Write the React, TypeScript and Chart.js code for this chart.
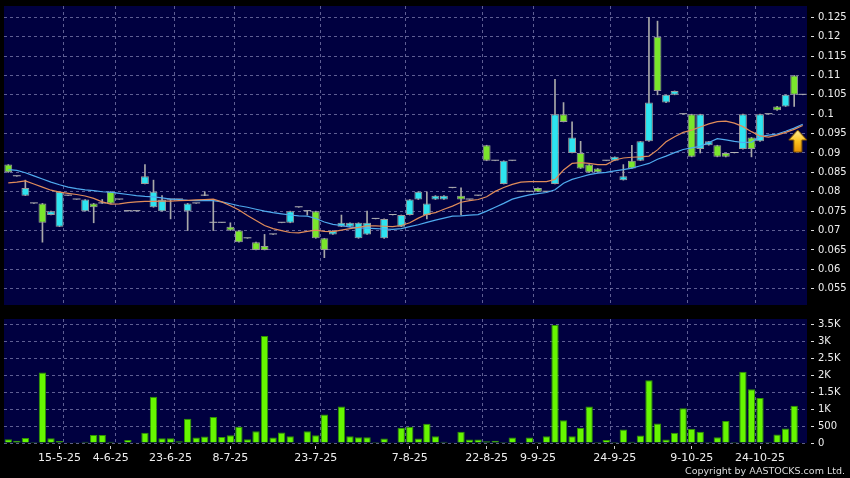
import React, { useEffect, useRef } from 'react';
import { Chart, registerables } from 'chart.js';

Chart.register(...registerables);

// ---------- data ----------
const opens = [
  0.087, 0.084, 0.079, 0.077, 0.077, 0.074, 0.071, 0.079, 0.078, 0.075,
  0.077, 0.077, 0.080, 0.078, 0.075, 0.075, 0.082, 0.076, 0.075, 0.078,
  0.078, 0.075, 0.077, 0.079, 0.072, 0.072, 0.071, 0.070, 0.068, 0.067,
  0.066, 0.069, 0.072, 0.072, 0.076, 0.075, 0.075, 0.068, 0.069, 0.071,
  0.071, 0.068, 0.069, 0.073, 0.068, 0.074, 0.071, 0.074, 0.078, 0.074,
  0.078, 0.078, 0.081, 0.079, 0.078, 0.079, 0.092, 0.088, 0.082, 0.088,
  0.080, 0.080, 0.081, 0.080, 0.082, 0.100, 0.090, 0.090, 0.087, 0.086,
  0.088, 0.088, 0.083, 0.088, 0.088, 0.093, 0.120, 0.103, 0.105, 0.100,
  0.100, 0.091, 0.092, 0.092, 0.090, 0.090, 0.091, 0.094, 0.093, 0.100,
  0.102, 0.102, 0.110, 0.105,
];
const closes = [
  0.085, 0.084, 0.081, 0.077, 0.072, 0.075, 0.080, 0.079, 0.078, 0.078,
  0.076, 0.077, 0.077, 0.078, 0.075, 0.075, 0.084, 0.080, 0.078, 0.078,
  0.078, 0.077, 0.077, 0.079, 0.072, 0.072, 0.070, 0.067, 0.068, 0.065,
  0.065, 0.069, 0.072, 0.075, 0.076, 0.075, 0.068, 0.065, 0.070, 0.072,
  0.072, 0.072, 0.072, 0.073, 0.073, 0.074, 0.074, 0.078, 0.080, 0.077,
  0.079, 0.079, 0.081, 0.078, 0.078, 0.079, 0.088, 0.088, 0.088, 0.088,
  0.080, 0.080, 0.080, 0.080, 0.100, 0.098, 0.094, 0.086, 0.085, 0.085,
  0.088, 0.089, 0.084, 0.086, 0.093, 0.103, 0.106, 0.105, 0.106, 0.100,
  0.089, 0.100, 0.093, 0.089, 0.089, 0.090, 0.100, 0.091, 0.100, 0.100,
  0.101, 0.105, 0.105, 0.105,
];
const highs = [
  0.087, 0.084, 0.083, 0.077, 0.077, 0.075, 0.080, 0.079, 0.078, 0.078,
  0.077, 0.078, 0.080, 0.078, 0.075, 0.075, 0.087, 0.083, 0.079, 0.078,
  0.078, 0.077, 0.077, 0.080, 0.078, 0.072, 0.072, 0.070, 0.068, 0.067,
  0.069, 0.069, 0.072, 0.075, 0.076, 0.075, 0.075, 0.068, 0.070, 0.074,
  0.072, 0.072, 0.075, 0.073, 0.073, 0.074, 0.074, 0.078, 0.080, 0.080,
  0.079, 0.079, 0.081, 0.081, 0.078, 0.079, 0.092, 0.088, 0.088, 0.088,
  0.080, 0.080, 0.081, 0.080, 0.109, 0.103, 0.098, 0.093, 0.087, 0.086,
  0.088, 0.089, 0.087, 0.092, 0.093, 0.125, 0.124, 0.105, 0.106, 0.100,
  0.100, 0.100, 0.093, 0.092, 0.090, 0.090, 0.100, 0.094, 0.100, 0.100,
  0.102, 0.105, 0.110, 0.105,
];
const lows = [
  0.085, 0.084, 0.079, 0.077, 0.067, 0.074, 0.071, 0.079, 0.078, 0.075,
  0.072, 0.077, 0.077, 0.078, 0.075, 0.075, 0.082, 0.076, 0.075, 0.073,
  0.078, 0.070, 0.077, 0.079, 0.070, 0.072, 0.070, 0.067, 0.068, 0.065,
  0.065, 0.069, 0.072, 0.072, 0.076, 0.074, 0.068, 0.063, 0.069, 0.071,
  0.071, 0.068, 0.069, 0.073, 0.068, 0.074, 0.071, 0.074, 0.078, 0.073,
  0.078, 0.078, 0.081, 0.074, 0.078, 0.079, 0.088, 0.088, 0.082, 0.088,
  0.080, 0.080, 0.080, 0.080, 0.082, 0.098, 0.090, 0.086, 0.085, 0.085,
  0.088, 0.088, 0.083, 0.086, 0.088, 0.093, 0.105, 0.103, 0.105, 0.100,
  0.089, 0.090, 0.092, 0.089, 0.089, 0.090, 0.091, 0.089, 0.093, 0.100,
  0.101, 0.102, 0.102, 0.105,
];
const volumes = [
  110, 70, 150, 30, 2090, 140, 60, 10, 5, 40,
  240, 240, 40, 5, 90, 10, 300, 1370, 140, 140,
  50, 720, 160, 190, 770, 180, 230, 480, 110, 350,
  3170, 160, 310, 200, 10, 350, 230, 840, 10, 1080,
  200, 170, 170, 30, 130, 10, 450, 480, 130, 570,
  200, 40, 20, 330, 100, 100, 50, 70, 30, 160,
  5, 160, 30, 200, 3490, 670, 200, 450, 1080, 30,
  90, 30, 400, 40, 220, 1860, 580, 100, 300, 1030,
  420, 330, 30, 170, 650, 30, 2110, 1590, 1330, 30,
  250, 430, 1100, 0,
];
const maShort = [
  0.0823, 0.0825, 0.0828, 0.0820, 0.0812, 0.0804, 0.0799, 0.0796, 0.0793, 0.0789,
  0.0783, 0.0774, 0.0768, 0.0769, 0.0772, 0.0774, 0.0775, 0.0775, 0.0776, 0.0776,
  0.0777, 0.0778, 0.0779, 0.0780, 0.0781, 0.0774, 0.0764, 0.0753, 0.0739, 0.0726,
  0.0713, 0.0705, 0.0700, 0.0695, 0.0694, 0.0698, 0.0701, 0.0698, 0.0697, 0.0701,
  0.0705, 0.0708, 0.0712, 0.0712, 0.0711, 0.0710, 0.0713, 0.0720, 0.0732, 0.0742,
  0.0746, 0.0755, 0.0763, 0.0773, 0.0777, 0.0780, 0.0787, 0.0801, 0.0811, 0.0819,
  0.0825, 0.0826, 0.0826, 0.0826, 0.0832, 0.0856, 0.0873, 0.0875, 0.0873, 0.0870,
  0.0870, 0.0882, 0.0887, 0.0889, 0.0890, 0.0892, 0.0908, 0.0929, 0.0942, 0.0953,
  0.0959, 0.0967, 0.0975, 0.0981, 0.0982, 0.0977, 0.0968, 0.0955, 0.0944, 0.0941,
  0.0946, 0.0953, 0.0961, 0.0971,
];
const maLong = [
  0.0857, 0.0855, 0.0849, 0.0841, 0.0833, 0.0825, 0.0818, 0.0812, 0.0808, 0.0805,
  0.0803, 0.0800, 0.0799, 0.0796, 0.0793, 0.0790, 0.0788, 0.0787, 0.0784, 0.0781,
  0.0780, 0.0778, 0.0777, 0.0777, 0.0777, 0.0774, 0.0769, 0.0764, 0.0760, 0.0755,
  0.0750, 0.0746, 0.0743, 0.0740, 0.0738, 0.0737, 0.0731, 0.0722, 0.0716, 0.0713,
  0.0709, 0.0707, 0.0706, 0.0705, 0.0704, 0.0703, 0.0705, 0.0710, 0.0715, 0.0721,
  0.0727, 0.0732, 0.0737, 0.0738, 0.0740, 0.0741, 0.0750, 0.0760, 0.0770, 0.0781,
  0.0787, 0.0792, 0.0795, 0.0798, 0.0805, 0.0822, 0.0832, 0.0838, 0.0844, 0.0848,
  0.0850, 0.0854, 0.0857, 0.0861, 0.0867, 0.0873, 0.0884, 0.0892, 0.0901, 0.0909,
  0.0913, 0.0917, 0.0927, 0.0937, 0.0934, 0.0930, 0.0927, 0.0928, 0.0942, 0.0946,
  0.0949, 0.0956, 0.0964, 0.0974,
];
const tickDates = ['15-5-25', '4-6-25', '23-6-25', '8-7-25', '23-7-25', '7-8-25', '22-8-25', '9-9-25', '24-9-25', '9-10-25', '24-10-25'];
const tickDateIndex = [6, 12, 19, 26, 36, 47, 56, 62, 71, 80, 88];
// categories whose left boundary carries a vertical divider
const dividerIndex = [7, 13, 20, 27, 37, 47, 56, 62, 71, 80, 88];
const priceTicks = [0.055, 0.06, 0.065, 0.07, 0.075, 0.08, 0.085, 0.09, 0.095, 0.1, 0.105, 0.11, 0.115, 0.12, 0.125];
const volumeTicks = [0, 500, 1000, 1500, 2000, 2500, 3000, 3500];
const priceMin = 0.0508;
const priceMax = 0.1279;
const volumeMax = 3670;
const signalIndex = 93;
const signalValue = 0.0931;

const categories = opens.map((_, i) => {
  const k = tickDateIndex.indexOf(i);
  return k >= 0 ? tickDates[k] : '';
});
const dividerSet = new Set(dividerIndex);

// ---------- styles ----------
const NAVY = '#000040';
const GRID = 'rgba(125,125,175,0.75)';
const UP = '#2ee3ef';
const DOWN = '#7ae62c';
const DOJI = '#b4b4b4';
const WICK = '#a8a8a8';
const BODY_BORDER = '#9a9a9a';
const VOL = '#66f600';
const VOL_BORDER = '#2f9400';
const LABEL = '#eeeeee';
const FONT = 'DejaVu Sans';

const bgPlugin = {
  id: 'plotBg',
  beforeDraw(chart: any) {
    const { ctx, chartArea: a } = chart;
    ctx.save();
    ctx.fillStyle = NAVY;
    ctx.fillRect(a.left, a.top, a.right - a.left, a.bottom - a.top);
    ctx.restore();
  },
};

function makeArrow() {
  const c = document.createElement('canvas');
  c.width = 30;
  c.height = 24;
  const g = c.getContext('2d')!;
  const grad = g.createLinearGradient(0, 0, 0, 24);
  grad.addColorStop(0, '#fff3a8');
  grad.addColorStop(0.5, '#ffc31e');
  grad.addColorStop(1, '#e58c00');
  g.beginPath();
  g.moveTo(10, 1);
  g.lineTo(19, 11);
  g.lineTo(14, 11);
  g.lineTo(14, 23);
  g.lineTo(6, 23);
  g.lineTo(6, 11);
  g.lineTo(1, 11);
  g.closePath();
  g.fillStyle = grad;
  g.fill();
  g.strokeStyle = '#8a5a00';
  g.lineWidth = 1;
  g.stroke();
  return c;
}

const fmtPrice = (v: number) => String(Number(v.toFixed(3)));
const fmtVol = (v: number) => (v === 0 ? '0' : v < 1000 ? String(v) : v / 1000 + 'K');

export default function App() {
  const priceRef = useRef<HTMLCanvasElement>(null);
  const volRef = useRef<HTMLCanvasElement>(null);

  useEffect(() => {
    const arrow = makeArrow();
    const candleColor = (i: number) =>
      closes[i] > opens[i] ? UP : closes[i] < opens[i] ? DOWN : DOJI;

    const priceChart = new Chart(priceRef.current!, {
      type: 'bar',
      data: {
        labels: categories,
        datasets: [
          {
            type: 'line',
            label: 'signal',
            data: categories.map((_, i) => (i === signalIndex ? signalValue : null)),
            showLine: false,
            pointStyle: arrow as any,
            pointRadius: 10,
            order: 0,
          } as any,
          {
            type: 'line',
            label: 'MA short',
            data: maShort,
            borderColor: '#e08c5a',
            borderWidth: 1.2,
            pointRadius: 0,
            tension: 0,
            order: 1,
          },
          {
            type: 'line',
            label: 'MA long',
            data: maLong,
            borderColor: '#4faaee',
            borderWidth: 1.2,
            pointRadius: 0,
            tension: 0,
            order: 1,
          },
          {
            type: 'bar',
            label: 'body',
            data: opens.map((o, i) => [o, closes[i]]) as any,
            backgroundColor: (ctx: any) => candleColor(ctx.dataIndex),
            borderColor: BODY_BORDER,
            borderWidth: (ctx: any) => (opens[ctx.dataIndex] === closes[ctx.dataIndex] ? 0 : 1),
            borderSkipped: false,
            minBarLength: 1,
            grouped: false,
            barPercentage: 0.92,
            categoryPercentage: 1,
            order: 2,
          } as any,
          {
            type: 'bar',
            label: 'wick',
            data: lows.map((l, i) => [l, highs[i]]) as any,
            backgroundColor: WICK,
            borderWidth: 0,
            barThickness: 1,
            grouped: false,
            order: 3,
          } as any,
        ],
      },
      options: {
        responsive: false,
        animation: false,
        events: [],
        layout: { autoPadding: false, padding: { left: 4, top: 6, right: 0, bottom: 5 } },
        plugins: { legend: { display: false }, tooltip: { enabled: false } },
        scales: {
          x: {
            offset: true,
            grid: {
              offset: true,
              drawTicks: false,
              color: (ctx: any) => (dividerSet.has(ctx.index) ? GRID : 'transparent'),
            },
            border: { display: false, dash: [3, 3] },
            ticks: { display: false, autoSkip: false },
            afterFit: (s: any) => {
              s.height = 0;
              s.paddingLeft = 0;
              s.paddingRight = 0;
            },
          },
          y: {
            position: 'right',
            min: priceMin,
            max: priceMax,
            afterBuildTicks: (s: any) => {
              s.ticks = priceTicks.map((v) => ({ value: v }));
            },
            grid: {
              color: GRID,
              tickColor: '#dddddd',
              tickLength: 7,
              tickBorderDash: [0, 4, 3, 50],
            },
            border: { display: false, dash: [3, 3] },
            ticks: {
              color: LABEL,
              padding: 4,
              font: { family: FONT, size: 10 },
              callback: (v: any) => fmtPrice(Number(v)),
            },
            afterFit: (s: any) => {
              s.width = 43;
              s.paddingTop = 0;
              s.paddingBottom = 0;
            },
          },
        },
      } as any,
      plugins: [bgPlugin],
    });

    const volChart = new Chart(volRef.current!, {
      type: 'bar',
      data: {
        labels: categories,
        datasets: [
          {
            label: 'volume',
            data: volumes,
            backgroundColor: VOL,
            borderColor: VOL_BORDER,
            borderWidth: 1,
            barPercentage: 0.86,
            categoryPercentage: 1,
          },
        ],
      },
      options: {
        responsive: false,
        animation: false,
        events: [],
        layout: { autoPadding: false, padding: { left: 4, top: 9, right: 0, bottom: 15 } },
        plugins: { legend: { display: false }, tooltip: { enabled: false } },
        scales: {
          x: {
            offset: true,
            grid: {
              offset: true,
              drawTicks: false,
              color: (ctx: any) => (dividerSet.has(ctx.index) ? GRID : 'transparent'),
            },
            border: { display: false, dash: [3, 3] },
            ticks: { display: false, autoSkip: false },
            afterFit: (s: any) => {
              s.height = 0;
              s.paddingLeft = 0;
              s.paddingRight = 0;
            },
          },
          xl: {
            type: 'category',
            position: 'bottom',
            offset: true,
            grid: {
              offset: false,
              drawOnChartArea: false,
              tickLength: 6,
              tickBorderDash: [0, 3, 3, 50],
              tickColor: (ctx: any) => (categories[ctx.index] ? '#cccccc' : 'transparent'),
            },
            border: { display: false },
            ticks: {
              autoSkip: false,
              maxRotation: 0,
              minRotation: 0,
              padding: 3,
              color: LABEL,
              font: { family: FONT, size: 11 },
              callback: (_v: any, i: number) => categories[i],
            },
            afterFit: (s: any) => {
              s.height = 20;
              s.paddingLeft = 0;
              s.paddingRight = 0;
            },
          },
          y: {
            position: 'right',
            min: 0,
            max: volumeMax,
            afterBuildTicks: (s: any) => {
              s.ticks = volumeTicks.map((v) => ({ value: v }));
            },
            grid: {
              color: GRID,
              tickColor: '#dddddd',
              tickLength: 7,
              tickBorderDash: [0, 4, 3, 50],
            },
            border: { display: false, dash: [3, 3] },
            ticks: {
              color: LABEL,
              padding: 4,
              font: { family: FONT, size: 10 },
              callback: (v: any) => fmtVol(Number(v)),
            },
            afterFit: (s: any) => {
              s.width = 43;
              s.paddingTop = 0;
              s.paddingBottom = 0;
            },
          },
        } as any,
      } as any,
      plugins: [bgPlugin],
    });

    return () => {
      priceChart.destroy();
      volChart.destroy();
    };
  }, []);

  return (
    <div
      style={{
        position: 'fixed',
        left: 0,
        top: 0,
        width: 850,
        height: 478,
        background: '#000',
        overflow: 'hidden',
      }}
    >
      <canvas
        ref={priceRef}
        width={850}
        height={310}
        style={{ position: 'absolute', left: 0, top: 0, width: 850, height: 310 }}
      />
      <canvas
        ref={volRef}
        width={850}
        height={168}
        style={{ position: 'absolute', left: 0, top: 310, width: 850, height: 168 }}
      />
      <div
        style={{
          position: 'absolute',
          right: 5,
          top: 465,
          fontFamily: FONT,
          fontSize: 9.5,
          lineHeight: '11px',
          color: '#dddddd',
          whiteSpace: 'nowrap',
        }}
      >
        Copyright by AASTOCKS.com Ltd.
      </div>
    </div>
  );
}
